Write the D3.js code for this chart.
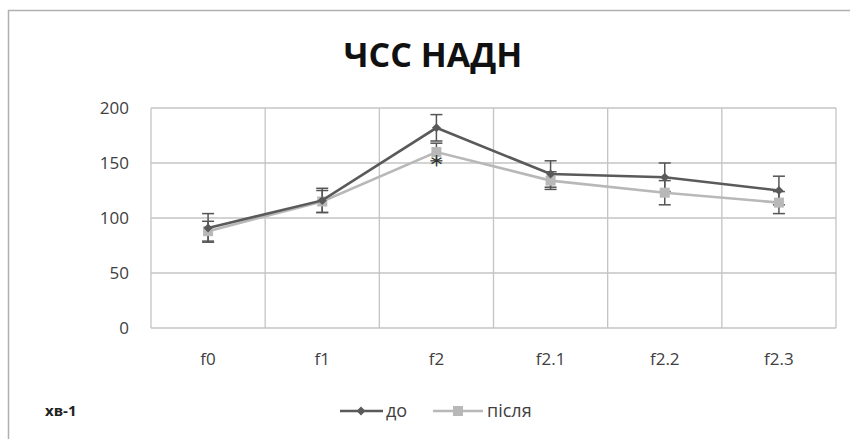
<!DOCTYPE html>
<html><head><meta charset="utf-8">
<script src="https://cdn.jsdelivr.net/npm/d3@7"></script>
<style>body{margin:0;background:#fff}svg{display:block}</style>
</head><body>
<script>
const categories = ["f0","f1","f2","f2.1","f2.2","f2.3"];
const doValues = [91, 116, 182, 140, 137, 125];
const doErr = [13, 11, 12, 12, 13, 13];
const pislyaValues = [88, 115, 160, 134, 123, 114];
const pislyaErr = [9, 10, 8, 8, 11, 10];
const yTicks = [0, 50, 100, 150, 200];
const seriesNames = ["до", "після"];
const title = "ЧСС НАДН";
const unitLabel = "хв-1";

const W = 850, H = 439;
const svg = d3.select("body").append("svg").attr("width", W).attr("height", H);
svg.append("rect").attr("x", 8.5).attr("y", 10.5).attr("width", W).attr("height", H)
  .attr("fill", "#fff").attr("stroke", "#b0b0b0").attr("stroke-width", 1.5);

const L = 151, R = 836, T = 108, B = 328;
const x = d3.scaleBand().domain(categories).range([L, R]);
const y = d3.scaleLinear().domain([0, 200]).range([B, T]);
const FONT = "Open Sans, sans-serif";

// grid
const g = svg.append("g");
g.selectAll(".hg").data(yTicks).join("line")
  .attr("x1", L).attr("x2", R).attr("y1", d => y(d)).attr("y2", d => y(d))
  .attr("stroke", "#c4c4c4").attr("stroke-width", 1.3);
const vlines = categories.map(c => x(c)).concat([R]);
g.selectAll(".vg").data(vlines).join("line")
  .attr("x1", d => d).attr("x2", d => d).attr("y1", T).attr("y2", B)
  .attr("stroke", "#c4c4c4").attr("stroke-width", 1.3);

// y axis labels
const yAxis = d3.axisLeft(y).tickValues(yTicks).tickSize(0).tickPadding(0);
const ya = svg.append("g").attr("transform", `translate(${L-22},0)`).call(yAxis);
ya.select(".domain").remove();
ya.selectAll("text").attr("font-family", FONT).attr("font-size", 17).attr("fill", "#404040");

// x axis labels
const xAxis = d3.axisBottom(x).tickSize(0).tickPadding(0);
const xa = svg.append("g").attr("transform", `translate(0,${B+25})`).call(xAxis);
xa.select(".domain").remove();
xa.selectAll("text").attr("font-family", FONT).attr("font-size", 17).attr("fill", "#404040");

const cx = c => x(c) + x.bandwidth() / 2;
const line = d3.line().x((d, i) => cx(categories[i])).y(d => y(d));

function drawErr(vals, errs, col) {
  const eg = svg.append("g").attr("stroke", col).attr("stroke-width", 1.5);
  vals.forEach((v, i) => {
    const c = cx(categories[i]);
    eg.append("line").attr("x1", c).attr("x2", c).attr("y1", y(v + errs[i])).attr("y2", y(v - errs[i]));
    eg.append("line").attr("x1", c - 6).attr("x2", c + 6).attr("y1", y(v + errs[i])).attr("y2", y(v + errs[i]));
    eg.append("line").attr("x1", c - 6).attr("x2", c + 6).attr("y1", y(v - errs[i])).attr("y2", y(v - errs[i]));
  });
}
drawErr(pislyaValues, pislyaErr, "#555");
drawErr(doValues, doErr, "#555");

const colDo = "#5a5a5a", colP = "#b8b8b8";
svg.append("path").datum(pislyaValues).attr("d", line).attr("fill", "none")
  .attr("stroke", colP).attr("stroke-width", 2.6);
svg.selectAll(".mp").data(pislyaValues).join("rect")
  .attr("x", (d, i) => cx(categories[i]) - 5).attr("y", d => y(d) - 5)
  .attr("width", 10).attr("height", 10).attr("fill", colP);
svg.append("path").datum(doValues).attr("d", line).attr("fill", "none")
  .attr("stroke", colDo).attr("stroke-width", 2.6);
svg.selectAll(".md").data(doValues).join("path")
  .attr("transform", (d, i) => `translate(${cx(categories[i])},${y(d)})`)
  .attr("d", "M0,-4.5L4.5,0L0,4.5L-4.5,0Z").attr("fill", colDo);

// asterisk
svg.append("text").attr("x", cx("f2")).attr("y", y(pislyaValues[2]) + 21)
  .attr("text-anchor", "middle").attr("font-family", "DejaVu Sans, sans-serif")
  .attr("font-size", 24).attr("fill", "#333").text("*");

// title
svg.append("text").attr("x", 433).attr("y", 67).attr("text-anchor", "middle")
  .attr("font-family", FONT).attr("font-weight", "bold")
  .attr("font-size", 34).attr("fill", "#111").text(title);

// unit label
svg.append("text").attr("x", 45).attr("y", 416)
  .attr("font-family", FONT).attr("font-weight", "bold")
  .attr("font-size", 15).attr("fill", "#222").text(unitLabel);

// legend
const leg = svg.append("g");
const ly = 411;
leg.append("line").attr("x1", 340).attr("x2", 383).attr("y1", ly).attr("y2", ly).attr("stroke", colDo).attr("stroke-width", 2.6);
leg.append("path").attr("transform", `translate(361,${ly})`).attr("d", "M0,-4.5L4.5,0L0,4.5L-4.5,0Z").attr("fill", colDo);
leg.append("text").attr("x", 386).attr("y", ly + 6).attr("font-family", FONT).attr("font-size", 18).attr("fill", "#404040").text(seriesNames[0]);
leg.append("line").attr("x1", 433).attr("x2", 483).attr("y1", ly).attr("y2", ly).attr("stroke", colP).attr("stroke-width", 2.6);
leg.append("rect").attr("x", 453).attr("y", ly - 5).attr("width", 10).attr("height", 10).attr("fill", colP);
leg.append("text").attr("x", 487).attr("y", ly + 6).attr("font-family", FONT).attr("font-size", 18).attr("fill", "#404040").text(seriesNames[1]);
</script>
</body></html>
